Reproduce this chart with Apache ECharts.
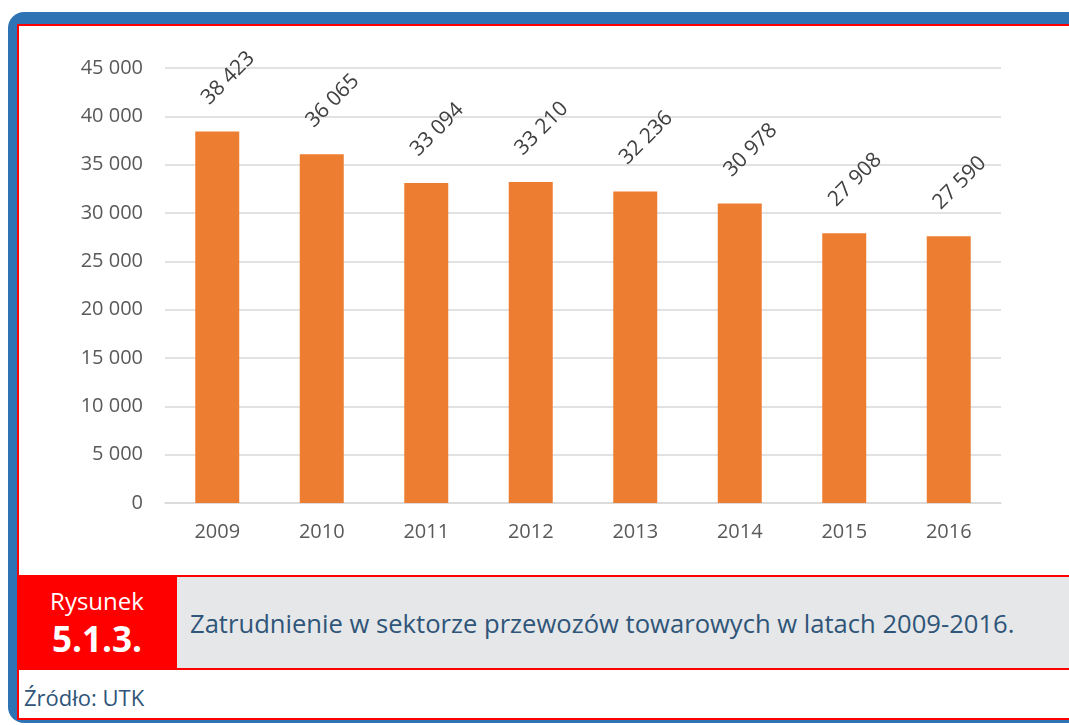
<!DOCTYPE html>
<html>
<head>
<meta charset="utf-8">
<script src="https://cdn.jsdelivr.net/npm/echarts@6/dist/echarts.min.js"></script>
<style>
  body { margin: 0; width: 1069px; height: 725px; overflow: hidden; background: #fff; position: relative; font-family: "Open Sans", sans-serif; }
  .abs { position: absolute; }
  #frame { left: 8px; top: 12px; width: 1100px; height: 711px; background: #2e74b5; border-radius: 16px; }
  #inner { left: 17px; top: 24px; width: 1100px; height: 696px; background: #fff; border: 2px solid #ff0000; box-sizing: border-box; }
  #chart { left: 0; top: 0; width: 1069px; height: 575px; }
  #capRow { left: 17px; top: 575px; width: 1100px; height: 95px; background: #e6e7e9; border-top: 2px solid #ff0000; border-bottom: 2px solid #ff0000; box-sizing: border-box; }
  #capRed { left: 17px; top: 577px; width: 160px; height: 91px; background: #ff0000; color: #fff; text-align: center; }
  #rys { position: absolute; left: 0; width: 160px; top: 7px; font-size: 24px; line-height: 34px; }
  #num { position: absolute; left: 0; width: 160px; top: 40px; font-size: 35px; line-height: 44px; font-weight: bold; }
  #capText { left: 190px; top: 606px; font-size: 25.6px; line-height: 36px; color: #2f5578; white-space: nowrap; }
  #src { left: 24px; top: 681px; font-size: 22px; line-height: 32px; color: #2f5578; white-space: nowrap; }
</style>
</head>
<body>
<div id="frame" class="abs"></div>
<div id="inner" class="abs"></div>
<div id="capRow" class="abs"></div>
<div id="capRed" class="abs"><div id="rys">Rysunek</div><div id="num">5.1.3.</div></div>
<div id="capText" class="abs">Zatrudnienie w sektorze przewozów towarowych w latach 2009-2016.</div>
<div id="src" class="abs">Źródło: UTK</div>
<div id="chart" class="abs"></div>
<script>
const years = ['2009', '2010', '2011', '2012', '2013', '2014', '2015', '2016'];
const employment = [38423, 36065, 33094, 33210, 32236, 30978, 27908, 27590];

// liczby z odstępem tysięcy, np. 38 423
const fmt = v => String(v).replace(/\B(?=(\d{3})+(?!\d))/g, ' ');

const myChart = echarts.init(document.getElementById('chart'));
const option = {
  animation: false,
  textStyle: { fontFamily: 'Open Sans' },
  grid: { left: 165, right: 68, top: 68, bottom: 72 },
  xAxis: {
    type: 'category',
    data: years,
    axisLine: { lineStyle: { color: '#d9d9d9', width: 1.5 } },
    axisTick: { show: false },
    axisLabel: { color: '#595959', fontSize: 20, margin: 19 }
  },
  yAxis: {
    type: 'value',
    min: 0,
    max: 45000,
    interval: 5000,
    axisLine: { show: false },
    axisTick: { show: false },
    splitLine: { lineStyle: { color: '#d9d9d9', width: 1.5 } },
    axisLabel: { color: '#595959', fontSize: 20, margin: 22, formatter: fmt }
  },
  series: [{
    type: 'bar',
    data: employment,
    barWidth: 44,
    itemStyle: { color: '#ed7d31' },
    label: {
      show: true,
      position: 'top',
      distance: 5,
      rotate: 45,
      offset: [42, -16],
      color: '#404040',
      fontSize: 21,
      formatter: p => fmt(p.value)
    }
  }]
};
myChart.setOption(option);
</script>
</body>
</html>
